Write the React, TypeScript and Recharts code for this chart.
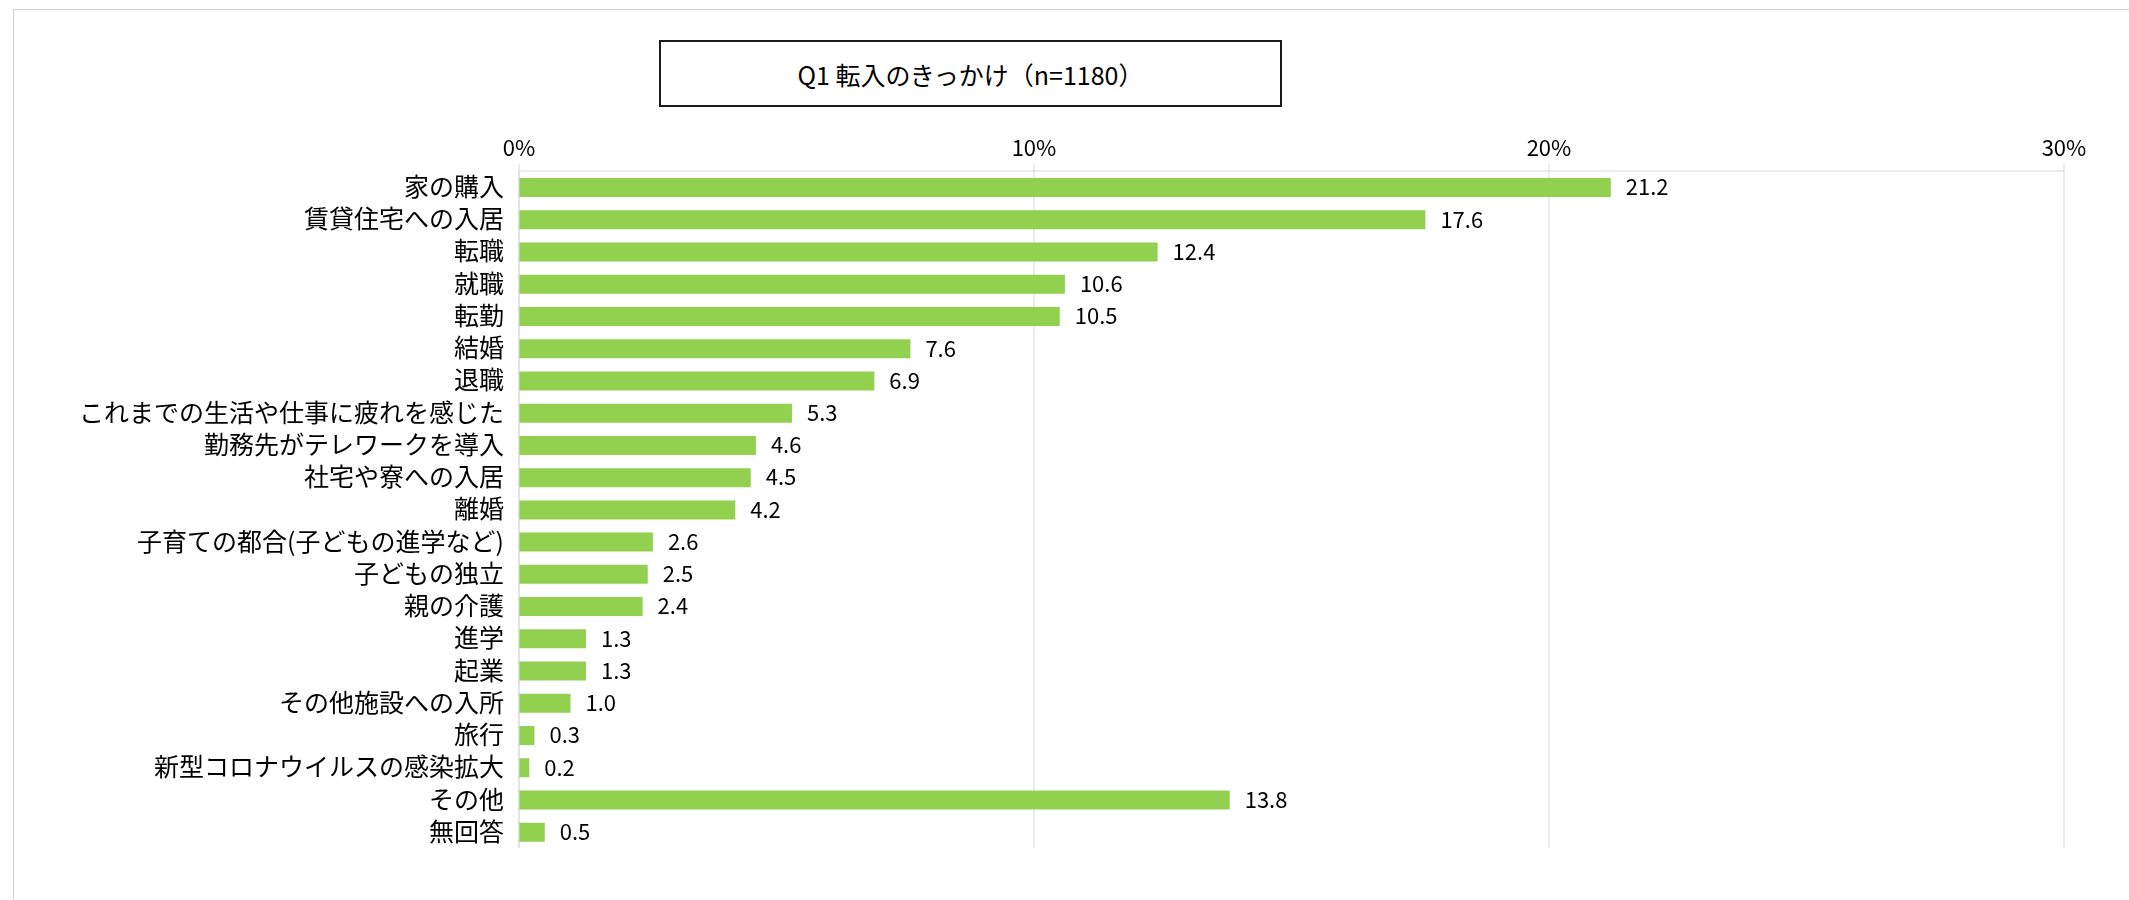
import { Bar, BarChart, CartesianGrid, LabelList, XAxis, YAxis } from 'recharts';

const categories = [
  '家の購入',
  '賃貸住宅への入居',
  '転職',
  '就職',
  '転勤',
  '結婚',
  '退職',
  'これまでの生活や仕事に疲れを感じた',
  '勤務先がテレワークを導入',
  '社宅や寮への入居',
  '離婚',
  '子育ての都合(子どもの進学など)',
  '子どもの独立',
  '親の介護',
  '進学',
  '起業',
  'その他施設への入所',
  '旅行',
  '新型コロナウイルスの感染拡大',
  'その他',
  '無回答',
];

const values = [
  21.2, 17.6, 12.4, 10.6, 10.5, 7.6, 6.9, 5.3, 4.6, 4.5, 4.2, 2.6, 2.5, 2.4, 1.3, 1.3, 1.0,
  0.3, 0.2, 13.8, 0.5,
];

const xTicks = [0, 10, 20, 30];

const title = 'Q1 転入のきっかけ（n=1180）';

const FONT = '"Noto Sans CJK JP", "Noto Sans", sans-serif';
const GRID = '#d9d9d9';

const data = categories.map((name, i) => ({ name, value: values[i] }));

const App = () => {
  return (
    <div style={{ position: 'relative', width: 2113, height: 884, fontFamily: FONT }}>
      <div
        style={{
          position: 'fixed',
          left: 13,
          top: 9,
          width: 3000,
          height: 3000,
          borderTop: '1px solid #d0d0d0',
          borderLeft: '1px solid #d0d0d0',
          pointerEvents: 'none',
        }}
      />
      <div
        style={{
          position: 'absolute',
          left: 651,
          top: 32,
          width: 619,
          height: 63,
          border: '2px solid #1a1a1a',
          display: 'flex',
          alignItems: 'center',
          justifyContent: 'center',
          fontSize: 25,
          color: '#000',
          background: '#fff',
        }}
      >
        {title}
      </div>
      <BarChart
        width={2113}
        height={884}
        data={data}
        layout="vertical"
        margin={{ top: 123, right: 57, bottom: 44, left: 0 }}
        style={{ position: 'absolute', left: 0, top: 0 }}
      >
        <CartesianGrid stroke={GRID} horizontal={false} />
        <XAxis
          type="number"
          orientation="top"
          domain={[0, 30]}
          ticks={xTicks}
          tickFormatter={(v: number) => `${v}%`}
          height={40}
          axisLine={{ stroke: GRID }}
          tickLine={{ stroke: GRID }}
          tickSize={7}
          tickMargin={8}
          tick={{ fontSize: 22, fill: '#000', fontFamily: FONT }}
        />
        <YAxis
          type="category"
          dataKey="name"
          width={511}
          axisLine={{ stroke: GRID }}
          tickLine={false}
          tickSize={0}
          tickMargin={15}
          interval={0}
          tick={{ fontSize: 25, fill: '#000', fontFamily: FONT }}
        />
        <Bar dataKey="value" fill="#92d050" barSize={19} isAnimationActive={false}>
          <LabelList
            dataKey="value"
            position="right"
            offset={15}
            formatter={(v: number) => v.toFixed(1)}
            style={{ fontSize: 22, fill: '#000', fontFamily: FONT }}
          />
        </Bar>
      </BarChart>
    </div>
  );
};

export default App;
